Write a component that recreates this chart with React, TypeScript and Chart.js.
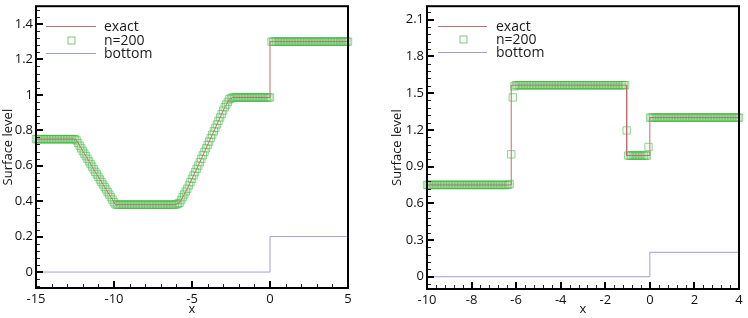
import React, { useEffect, useRef } from 'react';
import { Chart, registerables } from 'chart.js';

Chart.register(...registerables);

const FONT = "'Open Sans', 'DejaVu Sans', sans-serif";

// ---------- Left panel data ----------
const LEFT_EXACT_X = [-15, -12.45, -11.2, -9.9, -6.1, -5.8, -5.3, -4.5, -3.7, -2.9, -2.6, -2.4, 0, 0, 5];
const LEFT_EXACT_Y = [0.75, 0.75, 0.565, 0.38, 0.38, 0.39, 0.47, 0.62, 0.775, 0.93, 0.975, 0.985, 0.985, 1.3, 1.3];

const LEFT_MARK_X = [
  -15, -14.9, -14.8, -14.7, -14.6, -14.5, -14.4, -14.3, -14.2, -14.1, -14, -13.9, -13.8, -13.7, -13.6, -13.5,
  -13.4, -13.3, -13.2, -13.1, -13, -12.9, -12.8, -12.7, -12.6, -12.5,
  -12.4, -12.3, -12.2, -12.1, -12, -11.9, -11.8, -11.7, -11.6, -11.5, -11.4, -11.3, -11.2, -11.1, -11,
  -10.9, -10.8, -10.7, -10.6, -10.5, -10.4, -10.3, -10.2, -10.1, -10, -9.9, -9.8,
  -9.7, -9.6, -9.5, -9.4, -9.3, -9.2, -9.1, -9, -8.9, -8.8, -8.7, -8.6, -8.5, -8.4, -8.3, -8.2, -8.1, -8,
  -7.9, -7.8, -7.7, -7.6, -7.5, -7.4, -7.3, -7.2, -7.1, -7, -6.9, -6.8, -6.7, -6.6, -6.5, -6.4, -6.3, -6.2, -6.1,
  -6, -5.9, -5.8, -5.7, -5.6, -5.5, -5.4, -5.3, -5.2, -5.1, -5, -4.9, -4.8, -4.7, -4.6, -4.5, -4.4, -4.3,
  -4.2, -4.1, -4, -3.9, -3.8, -3.7, -3.6, -3.5, -3.4, -3.3, -3.2, -3.1, -3, -2.9, -2.8, -2.7, -2.6, -2.5, -2.4,
  -2.3, -2.2, -2.1, -2, -1.9, -1.8, -1.7, -1.6, -1.5, -1.4, -1.3, -1.2, -1.1, -1, -0.9, -0.8, -0.7, -0.6,
  -0.5, -0.4, -0.3, -0.2, -0.1, 0,
  0.1, 0.2, 0.3, 0.4, 0.5, 0.6, 0.7, 0.8, 0.9, 1, 1.1, 1.2, 1.3, 1.4, 1.5, 1.6, 1.7, 1.8, 1.9, 2,
  2.1, 2.2, 2.3, 2.4, 2.5, 2.6, 2.7, 2.8, 2.9, 3, 3.1, 3.2, 3.3, 3.4, 3.5, 3.6, 3.7, 3.8, 3.9, 4,
  4.1, 4.2, 4.3, 4.4, 4.5, 4.6, 4.7, 4.8, 4.9, 5,
];
const LEFT_MARK_Y = [
  0.75, 0.75, 0.75, 0.75, 0.75, 0.75, 0.75, 0.75, 0.75, 0.75, 0.75, 0.75, 0.75, 0.75, 0.75, 0.75,
  0.75, 0.75, 0.75, 0.75, 0.75, 0.75, 0.75, 0.75, 0.75, 0.75,
  0.743, 0.728, 0.713, 0.698, 0.683, 0.668, 0.654, 0.639, 0.624, 0.609, 0.595, 0.58, 0.565, 0.551, 0.537,
  0.522, 0.508, 0.494, 0.48, 0.466, 0.451, 0.437, 0.423, 0.409, 0.394, 0.382, 0.38,
  0.38, 0.38, 0.38, 0.38, 0.38, 0.38, 0.38, 0.38, 0.38, 0.38, 0.38, 0.38, 0.38, 0.38, 0.38, 0.38, 0.38, 0.38,
  0.38, 0.38, 0.38, 0.38, 0.38, 0.38, 0.38, 0.38, 0.38, 0.38, 0.38, 0.38, 0.38, 0.38, 0.38, 0.38, 0.38, 0.38, 0.38,
  0.382, 0.386, 0.39, 0.406, 0.422, 0.438, 0.454, 0.47, 0.489, 0.507, 0.526, 0.545, 0.564, 0.582, 0.601, 0.62, 0.639, 0.659,
  0.678, 0.698, 0.717, 0.736, 0.756, 0.775, 0.794, 0.814, 0.833, 0.853, 0.872, 0.891, 0.911, 0.93, 0.945, 0.96, 0.975, 0.98, 0.985,
  0.985, 0.985, 0.985, 0.985, 0.985, 0.985, 0.985, 0.985, 0.985, 0.985, 0.985, 0.985, 0.985, 0.985, 0.985, 0.985, 0.985, 0.985,
  0.985, 0.985, 0.985, 0.985, 0.985, 0.985,
  1.3, 1.3, 1.3, 1.3, 1.3, 1.3, 1.3, 1.3, 1.3, 1.3, 1.3, 1.3, 1.3, 1.3, 1.3, 1.3, 1.3, 1.3, 1.3, 1.3,
  1.3, 1.3, 1.3, 1.3, 1.3, 1.3, 1.3, 1.3, 1.3, 1.3, 1.3, 1.3, 1.3, 1.3, 1.3, 1.3, 1.3, 1.3, 1.3, 1.3,
  1.3, 1.3, 1.3, 1.3, 1.3, 1.3, 1.3, 1.3, 1.3, 1.3,
];

const LEFT_BOTTOM_X = [-15, 0, 0, 5];
const LEFT_BOTTOM_Y = [0, 0, 0.2, 0.2];

const LEFT_X_TICKS = [-15, -10, -5, 0, 5];
const LEFT_Y_TICKS = [0, 0.2, 0.4, 0.6, 0.8, 1, 1.2, 1.4];

// ---------- Right panel data ----------
const RIGHT_EXACT_X = [-10, -6.22, -6.22, -1.04, -1.04, 0, 0, 4];
const RIGHT_EXACT_Y = [0.75, 0.75, 1.565, 1.565, 0.99, 0.99, 1.3, 1.3];

const RIGHT_MARK_X = [
  -10, -9.93, -9.86, -9.79, -9.72, -9.65, -9.58, -9.51, -9.44, -9.37, -9.3, -9.23, -9.16, -9.09, -9.02,
  -8.95, -8.88, -8.81, -8.74, -8.67, -8.6, -8.53, -8.46, -8.39, -8.32, -8.25, -8.18, -8.11, -8.04, -7.97,
  -7.9, -7.83, -7.76, -7.69, -7.62, -7.55, -7.48, -7.41, -7.34, -7.27, -7.2, -7.13, -7.06, -6.99, -6.92,
  -6.85, -6.78, -6.71, -6.64, -6.57, -6.5, -6.43, -6.36,
  -6.29, -6.22, -6.15, -6.08,
  -6.01, -5.94, -5.87, -5.8, -5.73, -5.66, -5.59, -5.52, -5.45, -5.38, -5.31, -5.24, -5.17, -5.1, -5.03,
  -4.96, -4.89, -4.82, -4.75, -4.68, -4.61, -4.54, -4.47, -4.4, -4.33, -4.26, -4.19, -4.12, -4.05, -3.98,
  -3.91, -3.84, -3.77, -3.7, -3.63, -3.56, -3.49, -3.42, -3.35, -3.28, -3.21, -3.14, -3.07, -3, -2.93,
  -2.86, -2.79, -2.72, -2.65, -2.58, -2.51, -2.44, -2.37, -2.3, -2.23, -2.16, -2.09, -2.02, -1.95, -1.88,
  -1.81, -1.74, -1.67, -1.6, -1.53, -1.46, -1.39, -1.32, -1.25, -1.18, -1.11,
  -1.04,
  -0.97, -0.9, -0.83, -0.76, -0.69, -0.62, -0.55, -0.48, -0.41, -0.34, -0.27, -0.2, -0.13,
  -0.06,
  0.01, 0.08, 0.15, 0.22, 0.29, 0.36, 0.43, 0.5, 0.57, 0.64, 0.71, 0.78, 0.85, 0.92, 0.99, 1.06, 1.13, 1.2,
  1.27, 1.34, 1.41, 1.48, 1.55, 1.62, 1.69, 1.76, 1.83, 1.9, 1.97, 2.04, 2.11, 2.18, 2.25, 2.32, 2.39, 2.46,
  2.53, 2.6, 2.67, 2.74, 2.81, 2.88, 2.95, 3.02, 3.09, 3.16, 3.23, 3.3, 3.37, 3.44, 3.51, 3.58, 3.65, 3.72,
  3.79, 3.86, 3.93, 4,
];
const RIGHT_MARK_Y = [
  0.75, 0.75, 0.75, 0.75, 0.75, 0.75, 0.75, 0.75, 0.75, 0.75, 0.75, 0.75, 0.75, 0.75, 0.75,
  0.75, 0.75, 0.75, 0.75, 0.75, 0.75, 0.75, 0.75, 0.75, 0.75, 0.75, 0.75, 0.75, 0.75, 0.75,
  0.75, 0.75, 0.75, 0.75, 0.75, 0.75, 0.75, 0.75, 0.75, 0.75, 0.75, 0.75, 0.75, 0.75, 0.75,
  0.75, 0.75, 0.75, 0.75, 0.75, 0.75, 0.75, 0.75,
  0.757, 1.0, 1.465, 1.555,
  1.565, 1.565, 1.565, 1.565, 1.565, 1.565, 1.565, 1.565, 1.565, 1.565, 1.565, 1.565, 1.565, 1.565, 1.565,
  1.565, 1.565, 1.565, 1.565, 1.565, 1.565, 1.565, 1.565, 1.565, 1.565, 1.565, 1.565, 1.565, 1.565, 1.565,
  1.565, 1.565, 1.565, 1.565, 1.565, 1.565, 1.565, 1.565, 1.565, 1.565, 1.565, 1.565, 1.565, 1.565, 1.565,
  1.565, 1.565, 1.565, 1.565, 1.565, 1.565, 1.565, 1.565, 1.565, 1.565, 1.565, 1.565, 1.565, 1.565, 1.565,
  1.565, 1.565, 1.565, 1.565, 1.565, 1.565, 1.565, 1.565, 1.565, 1.565, 1.565,
  1.195,
  0.99, 0.99, 0.99, 0.99, 0.99, 0.99, 0.99, 0.99, 0.99, 0.99, 0.99, 0.99, 0.99,
  1.06,
  1.3, 1.3, 1.3, 1.3, 1.3, 1.3, 1.3, 1.3, 1.3, 1.3, 1.3, 1.3, 1.3, 1.3, 1.3, 1.3, 1.3, 1.3,
  1.3, 1.3, 1.3, 1.3, 1.3, 1.3, 1.3, 1.3, 1.3, 1.3, 1.3, 1.3, 1.3, 1.3, 1.3, 1.3, 1.3, 1.3,
  1.3, 1.3, 1.3, 1.3, 1.3, 1.3, 1.3, 1.3, 1.3, 1.3, 1.3, 1.3, 1.3, 1.3, 1.3, 1.3, 1.3, 1.3,
  1.3, 1.3, 1.3, 1.3,
];

const RIGHT_BOTTOM_X = [-10, 0, 0, 4];
const RIGHT_BOTTOM_Y = [0, 0, 0.2, 0.2];

const RIGHT_X_TICKS = [-10, -8, -6, -4, -2, 0, 2, 4];
const RIGHT_Y_TICKS = [0, 0.3, 0.6, 0.9, 1.2, 1.5, 1.8, 2.1];

const SERIES_LABELS = ['exact', 'n=200', 'bottom'];
const X_TITLE = 'x';
const Y_TITLE = 'Surface level';

// ---------- styles ----------
const EXACT_COLOR = '#bf6f6f';
const BOTTOM_COLOR = '#9f9fd2';
const MARK_COLOR = 'rgba(75,185,75,0.6)';
const MARK_FILL = 'rgba(120,215,120,0.06)';

const pts = (xs: number[], ys: number[]) => xs.map((x, i) => ({ x, y: ys[i] }));

const frameTicksPlugin = {
  id: 'frameTicks',
  afterDatasetsDraw(chart: any, _args: any, opts: any) {
    const { ctx, chartArea: a, scales } = chart;
    const xs = scales.x;
    const ys = scales.y;
    ctx.save();
    ctx.strokeStyle = '#222';
    ctx.lineWidth = 1;
    ctx.beginPath();
    const nx = Math.round((xs.max - xs.min) / opts.xMinor);
    for (let k = 0; k <= nx; k++) {
      const v = xs.min + k * opts.xMinor;
      const p = Math.round(xs.getPixelForValue(v)) + 0.5;
      ctx.moveTo(p, a.bottom);
      ctx.lineTo(p, a.bottom - 4);
    }
    const y0 = Math.ceil(ys.min / opts.yMinor - 1e-6);
    const y1 = Math.floor(ys.max / opts.yMinor + 1e-6);
    for (let k = y0; k <= y1; k++) {
      const v = k * opts.yMinor;
      const p = Math.round(ys.getPixelForValue(v)) + 0.5;
      ctx.moveTo(a.left, p);
      ctx.lineTo(a.left + 4, p);
    }
    ctx.stroke();
    ctx.strokeStyle = '#000';
    ctx.lineWidth = 2;
    ctx.beginPath();
    for (const v of opts.xMajor) {
      const p = Math.round(xs.getPixelForValue(v));
      ctx.moveTo(p, a.bottom);
      ctx.lineTo(p, a.bottom - 7);
    }
    for (const v of opts.yMajor) {
      const p = Math.round(ys.getPixelForValue(v));
      ctx.moveTo(a.left, p);
      ctx.lineTo(a.left + 7, p);
    }
    ctx.stroke();
    ctx.lineWidth = 2;
    ctx.strokeRect(a.left, a.top, a.right - a.left, a.bottom - a.top);
    ctx.restore();
  },
};

const innerLegendPlugin = {
  id: 'innerLegend',
  afterDraw(chart: any, _args: any, opts: any) {
    const { ctx, chartArea: a } = chart;
    ctx.save();
    ctx.font = `14px ${FONT}`;
    ctx.textBaseline = 'middle';
    ctx.textAlign = 'left';
    chart.data.datasets.forEach((ds: any, i: number) => {
      const y = Math.round(a.top + opts.rows[i]);
      const x0 = a.left + opts.lineStart;
      const x1 = a.left + opts.lineEnd;
      if (ds.showLine === false) {
        const cx = Math.round((x0 + x1) / 2) + 0.5;
        ctx.strokeStyle = 'rgba(75,185,75,0.75)';
        ctx.lineWidth = 1;
        ctx.strokeRect(cx - 3.5, y - 3.5 + 0.5, 7, 7);
      } else {
        ctx.strokeStyle = ds.borderColor;
        ctx.lineWidth = 1;
        ctx.beginPath();
        ctx.moveTo(x0, y + 0.5);
        ctx.lineTo(x1, y + 0.5);
        ctx.stroke();
      }
      ctx.fillStyle = '#1a1a1a';
      ctx.fillText(ds.label, a.left + opts.textX, y + 1);
    });
    ctx.restore();
  },
};

type PanelCfg = {
  left: number;
  width: number;
  exactX: number[];
  exactY: number[];
  markX: number[];
  markY: number[];
  bottomX: number[];
  bottomY: number[];
  xTicks: number[];
  yTicks: number[];
  xMin: number;
  xMax: number;
  yMin: number;
  yMax: number;
  xMinor: number;
  yMinor: number;
  yAxisWidth: number;
  xAxisHeight: number;
  padRight: number;
  yTitlePad: number;
  legendRows: number[];
  legendLine: [number, number];
  legendTextX: number;
};

function Panel({ cfg }: { cfg: PanelCfg }) {
  const ref = useRef<HTMLCanvasElement>(null);
  useEffect(() => {
    const canvas = ref.current;
    if (!canvas) return;
    const tickFont = { family: FONT, size: 13 };
    const chart = new Chart(canvas, {
      type: 'scatter',
      data: {
        datasets: [
          {
            label: SERIES_LABELS[0],
            data: pts(cfg.exactX, cfg.exactY),
            showLine: true,
            borderColor: EXACT_COLOR,
            backgroundColor: EXACT_COLOR,
            borderWidth: 1,
            pointRadius: 0,
            clip: false as any,
          },
          {
            label: SERIES_LABELS[1],
            data: pts(cfg.markX, cfg.markY),
            showLine: false,
            pointStyle: 'rect',
            pointRadius: 5.2,
            pointBorderWidth: 1,
            borderColor: MARK_COLOR,
            pointBorderColor: MARK_COLOR,
            backgroundColor: MARK_FILL,
            pointBackgroundColor: MARK_FILL,
            clip: false as any,
          },
          {
            label: SERIES_LABELS[2],
            data: pts(cfg.bottomX, cfg.bottomY),
            showLine: true,
            borderColor: BOTTOM_COLOR,
            backgroundColor: BOTTOM_COLOR,
            borderWidth: 1,
            pointRadius: 0,
            clip: false as any,
          },
        ] as any,
      },
      options: {
        animation: false,
        responsive: false,
        devicePixelRatio: 1,
        events: [],
        layout: { padding: { left: 0, top: 4, right: cfg.padRight, bottom: 0 } },
        plugins: {
          legend: { display: false },
          tooltip: { enabled: false },
          frameTicks: { xMinor: cfg.xMinor, yMinor: cfg.yMinor, xMajor: cfg.xTicks, yMajor: cfg.yTicks },
          innerLegend: {
            rows: cfg.legendRows,
            lineStart: cfg.legendLine[0],
            lineEnd: cfg.legendLine[1],
            textX: cfg.legendTextX,
          },
        } as any,
        scales: {
          x: {
            type: 'linear',
            min: cfg.xMin,
            max: cfg.xMax,
            grid: { display: false, drawTicks: false },
            border: { display: false },
            afterBuildTicks: (s: any) => {
              s.ticks = cfg.xTicks.map((v) => ({ value: v }));
            },
            afterFit: (s: any) => {
              s.height = cfg.xAxisHeight;
              s.paddingLeft = 0;
              s.paddingRight = 0;
            },
            ticks: {
              autoSkip: false,
              maxRotation: 0,
              padding: 3,
              color: '#111',
              font: tickFont,
              callback: (v: any) => String(v),
            },
            title: {
              display: true,
              text: X_TITLE,
              color: '#111',
              font: tickFont,
              padding: { top: 0, bottom: 1 },
            },
          },
          y: {
            type: 'linear',
            min: cfg.yMin,
            max: cfg.yMax,
            grid: { display: false, drawTicks: false },
            border: { display: false },
            afterBuildTicks: (s: any) => {
              s.ticks = cfg.yTicks.map((v) => ({ value: v }));
            },
            afterFit: (s: any) => {
              s.width = cfg.yAxisWidth;
              s.paddingTop = 0;
              s.paddingBottom = 0;
            },
            ticks: {
              autoSkip: false,
              padding: 3,
              color: '#111',
              font: tickFont,
              callback: (v: any) => String(v),
            },
            title: {
              display: true,
              text: Y_TITLE,
              color: '#111',
              font: tickFont,
              padding: { top: cfg.yTitlePad, bottom: 0 },
            },
          },
        },
      } as any,
      plugins: [frameTicksPlugin, innerLegendPlugin] as any,
    });
    return () => chart.destroy();
  }, [cfg]);
  return (
    <canvas
      ref={ref}
      width={cfg.width}
      height={318}
      style={{ position: 'absolute', left: cfg.left, top: 0, width: cfg.width, height: 318 }}
    />
  );
}

const LEFT_CFG: PanelCfg = {
  left: 0,
  width: 370,
  exactX: LEFT_EXACT_X,
  exactY: LEFT_EXACT_Y,
  markX: LEFT_MARK_X,
  markY: LEFT_MARK_Y,
  bottomX: LEFT_BOTTOM_X,
  bottomY: LEFT_BOTTOM_Y,
  xTicks: LEFT_X_TICKS,
  yTicks: LEFT_Y_TICKS,
  xMin: -15,
  xMax: 5,
  yMin: -0.09,
  yMax: 1.5,
  xMinor: 1,
  yMinor: 0.04,
  yAxisWidth: 36,
  xAxisHeight: 30,
  padRight: 22,
  yTitlePad: 0,
  legendRows: [20, 33.5, 47],
  legendLine: [10, 60],
  legendTextX: 68,
};

const RIGHT_CFG: PanelCfg = {
  left: 370,
  width: 378,
  exactX: RIGHT_EXACT_X,
  exactY: RIGHT_EXACT_Y,
  markX: RIGHT_MARK_X,
  markY: RIGHT_MARK_Y,
  bottomX: RIGHT_BOTTOM_X,
  bottomY: RIGHT_BOTTOM_Y,
  xTicks: RIGHT_X_TICKS,
  yTicks: RIGHT_Y_TICKS,
  xMin: -10,
  xMax: 4,
  yMin: -0.1,
  yMax: 2.21,
  xMinor: 0.4,
  yMinor: 0.06,
  yAxisWidth: 57,
  xAxisHeight: 29,
  padRight: 9,
  yTitlePad: 19,
  legendRows: [20, 33, 46],
  legendLine: [11, 60],
  legendTextX: 69,
};

export default function App() {
  return (
    <div style={{ position: 'absolute', left: 0, top: 0, width: 748, height: 318, background: '#fff' }}>
      <Panel cfg={LEFT_CFG} />
      <Panel cfg={RIGHT_CFG} />
    </div>
  );
}
